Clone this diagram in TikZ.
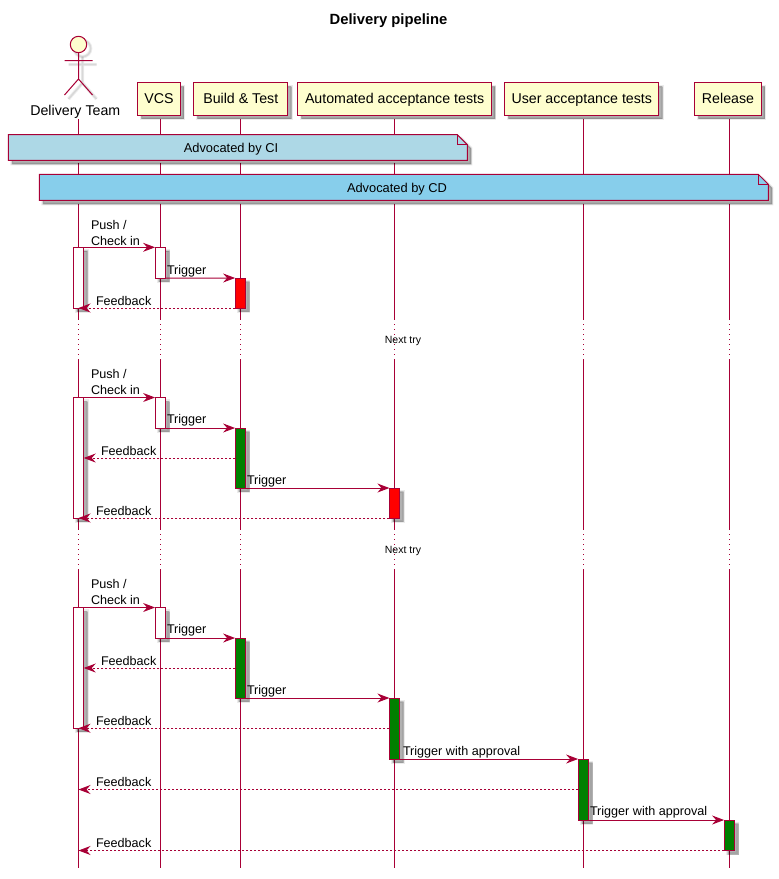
\documentclass[tikz,border=0pt]{standalone}
\usepackage{fontspec}
\setmainfont{Liberation Sans}
\usetikzlibrary{arrows.meta,shadows,calc}
\definecolor{pline}{HTML}{A80036}
\definecolor{pfill}{HTML}{FEFECE}
\definecolor{ptext}{HTML}{000000}
\tikzset{
  softshadow/.style={
    general shadow={shadow xshift=3.4pt,shadow yshift=-3.4pt,draw=black,fill=black,line width=3pt,opacity=.08},
    general shadow={shadow xshift=3.6pt,shadow yshift=-3.6pt,draw=black,fill=black,line width=1.2pt,opacity=.12},
    general shadow={shadow xshift=4pt,shadow yshift=-4pt,fill=black,draw=none,opacity=.14}},
  lineshadow/.style={
    general shadow={shadow xshift=4pt,shadow yshift=-4pt,draw=black,fill=none,line width=3.4pt,opacity=.07},
    general shadow={shadow xshift=4pt,shadow yshift=-4pt,draw=black,fill=none,line width=1.6pt,opacity=.09}},
  txt/.style={font=\fontsize{12.6}{15}\selectfont,text=ptext,inner sep=0pt,outer sep=0pt,yshift=-1pt},
  msgtxt/.style={txt,anchor=west},
  bigtxt/.style={txt,font=\fontsize{14.2}{17}\selectfont},
  notetxt/.style={txt,font=\fontsize{12.85}{15}\selectfont},
  part/.style={draw=pline,line width=1pt,fill=pfill,softshadow,font=\fontsize{14.2}{17}\selectfont,text=ptext,minimum height=32.4pt,anchor=north west,inner sep=0pt,text height=10pt,text depth=2pt},
  bar/.style={draw=pline,line width=1pt,softshadow,minimum width=10.4pt,inner sep=0pt,outer sep=0pt,anchor=north},
  whitebar/.style={bar,fill=white},
  redbar/.style={bar,fill=red},
  greenbar/.style={bar,fill=green!50!black},
  notebody/.style={draw=pline,line width=1pt,softshadow},
  foldline/.style={draw=pline,line width=1pt},
  life/.style={draw=pline,line width=1pt},
  dotlife/.style={draw=pline,line width=1pt,dash pattern=on 1pt off 4pt},
  msg/.style={draw=pline,line width=1pt,-{Stealth[length=12pt,width=9pt,inset=4pt,fill=pline]}},
  ret/.style={msg,dash pattern=on 2pt off 2pt},
}
\newcommand{\pmsg}[3]{\node[msgtxt] (#1) at #2 {#3};}
\begin{document}
\begin{tikzpicture}[x=1pt,y=-1pt]
\useasboundingbox (0,0) rectangle (779,879);
% lifelines that pass beside the first note
\foreach \n/\x in {Lu/583.3,Lr/729.3}{
  \coordinate (\n) at (\x,119);
  \draw[life] (\n) -- (\x,175);
}
% lifelines that the first note crosses
\foreach \n/\x in {Lt/78.5,Lv/160.3,Lb/240.3,La/394.6}{
  \coordinate (\n) at (\x,119);
  \draw[life] (\n) -- (\x,135);
  \draw[life] (\x,162.5) -- (\x,175);
}
\foreach \x in {78.5,160.3,240.3,394.6,583.3,729.3}{
  \draw[life] (\x,203.5) -- (\x,319);
  \draw[dotlife] (\x,319) -- (\x,359);
  \draw[life] (\x,359) -- (\x,529);
  \draw[dotlife] (\x,529) -- (\x,569);
  \draw[life] (\x,569) -- (\x,868);
}
\node[txt,font=\fontsize{14.8}{17}\selectfont\bfseries] (title) at (388.5,20) {Delivery pipeline};
% actor
\draw[life,fill=pfill,lineshadow] (78.5,44.5) circle[radius=8.2];
\draw[life,lineshadow] (78.5,52.7) -- (78.5,79) (64.5,60.5) -- (92.5,60.5) (64.5,95) -- (78.5,79) -- (92.5,95);
\node[bigtxt] (team) at (75.3,111) {Delivery Team};
% participants
\node[part,minimum width=42.4pt] (vcs) at (137.3,82.3) {VCS};
\node[part,minimum width=94pt] (build) at (193.3,82.3) {Build \& Test};
\node[part,minimum width=193.6pt] (auto) at (297.3,82.3) {Automated acceptance tests};
\node[part,minimum width=154pt] (user) at (504.3,82.3) {User acceptance tests};
\node[part,minimum width=66.4pt] (rel) at (694.3,82.3) {Release};
% notes
\path[notebody,fill={rgb,255:red,173;green,216;blue,230}] (8.4,134.7) -- (457.4,134.7) -- (467.4,144.7) -- (467.4,160.4) -- (8.4,160.4) -- cycle;
\path[foldline] (457.4,134.7) -- (457.4,144.7) -- (467.4,144.7);
\node[notetxt] (noteci) at (231,148) {Advocated by CI};
\path[notebody,fill={rgb,255:red,135;green,206;blue,235}] (39.4,174.4) -- (758.4,174.4) -- (768.4,184.4) -- (768.4,200.4) -- (39.4,200.4) -- cycle;
\path[foldline] (758.4,174.4) -- (758.4,184.4) -- (768.4,184.4);
\node[notetxt] (notecd) at (397,188) {Advocated by CD};
% delays
\node[txt,font=\fontsize{10.5}{12}\selectfont] (next1) at (403,339.5) {Next try};
\node[txt,font=\fontsize{10.5}{12}\selectfont] (next2) at (403,549.5) {Next try};
% --- round 1
\node[whitebar,minimum height=60.7pt] (t1) at (78.5,247.3) {};
\node[whitebar,minimum height=30.7pt] (v1) at (160.3,247.3) {};
\node[redbar,minimum height=30pt] (b1) at (240.3,278) {};
\draw[msg] (t1.north east) -- (v1.north west);
\draw[msg] (v1.south east) -- (b1.north west);
\draw[ret] (b1.south west) -- (Lt |- b1.south);
\node[msgtxt] (m1a) at (91,224) {Push /};
\node[msgtxt] (m1b) at (91,240) {Check in};
\pmsg{m1c}{(167,270)}{Trigger}
\pmsg{m1d}{(96,300)}{Feedback}
% --- round 2
\node[whitebar,minimum height=120.7pt] (t2) at (78.5,397.5) {};
\node[whitebar,minimum height=30.5pt] (v2) at (160.3,397.5) {};
\node[greenbar,minimum height=60pt] (b2) at (240.3,428) {};
\node[redbar,minimum height=30pt] (a2) at (394.6,488) {};
\draw[msg] (t2.north east) -- (v2.north west);
\draw[msg] (v2.south east) -- (b2.north west);
\draw[ret] (b2.west |- 0,458) -- (t2.east |- 0,458);
\draw[msg] (b2.south east) -- (a2.north west);
\draw[ret] (a2.south west) -- (Lt |- a2.south);
\pmsg{m2a}{(91,373)}{Push /}
\pmsg{m2b}{(91,389)}{Check in}
\pmsg{m2c}{(167,419.5)}{Trigger}
\pmsg{m2d}{(101,450)}{Feedback}
\pmsg{m2e}{(247,480)}{Trigger}
\pmsg{m2f}{(96,510)}{Feedback}
% --- round 3
\node[whitebar,minimum height=120.7pt] (t3) at (78.5,607.5) {};
\node[whitebar,minimum height=30.5pt] (v3) at (160.3,607.5) {};
\node[greenbar,minimum height=60pt] (b3) at (240.3,638) {};
\node[greenbar,minimum height=61pt] (a3) at (394.6,698) {};
\node[greenbar,minimum height=61pt] (u3) at (583.3,759) {};
\node[greenbar,minimum height=30.5pt] (r3) at (729.3,820) {};
\draw[msg] (t3.north east) -- (v3.north west);
\draw[msg] (v3.south east) -- (b3.north west);
\draw[ret] (b3.west |- 0,668) -- (t3.east |- 0,668);
\draw[msg] (b3.south east) -- (a3.north west);
\draw[ret] (a3.west |- t3.south) -- (Lt |- t3.south);
\draw[msg] (a3.south east) -- (u3.north west);
\draw[ret] (u3.west |- 0,789.5) -- (Lt |- 0,789.5);
\draw[msg] (u3.south east) -- (r3.north west);
\draw[ret] (r3.south west) -- (Lt |- r3.south);
\pmsg{m3a}{(91,583)}{Push /}
\pmsg{m3b}{(91,599)}{Check in}
\pmsg{m3c}{(167,629.5)}{Trigger}
\pmsg{m3d}{(101,660)}{Feedback}
\pmsg{m3e}{(247,690)}{Trigger}
\pmsg{m3f}{(96,720)}{Feedback}
\pmsg{m3g}{(403,751)}{Trigger with approval}
\pmsg{m3h}{(96,781)}{Feedback}
\pmsg{m3i}{(590,811.5)}{Trigger with approval}
\pmsg{m3j}{(96,842)}{Feedback}
\end{tikzpicture}
\end{document}
